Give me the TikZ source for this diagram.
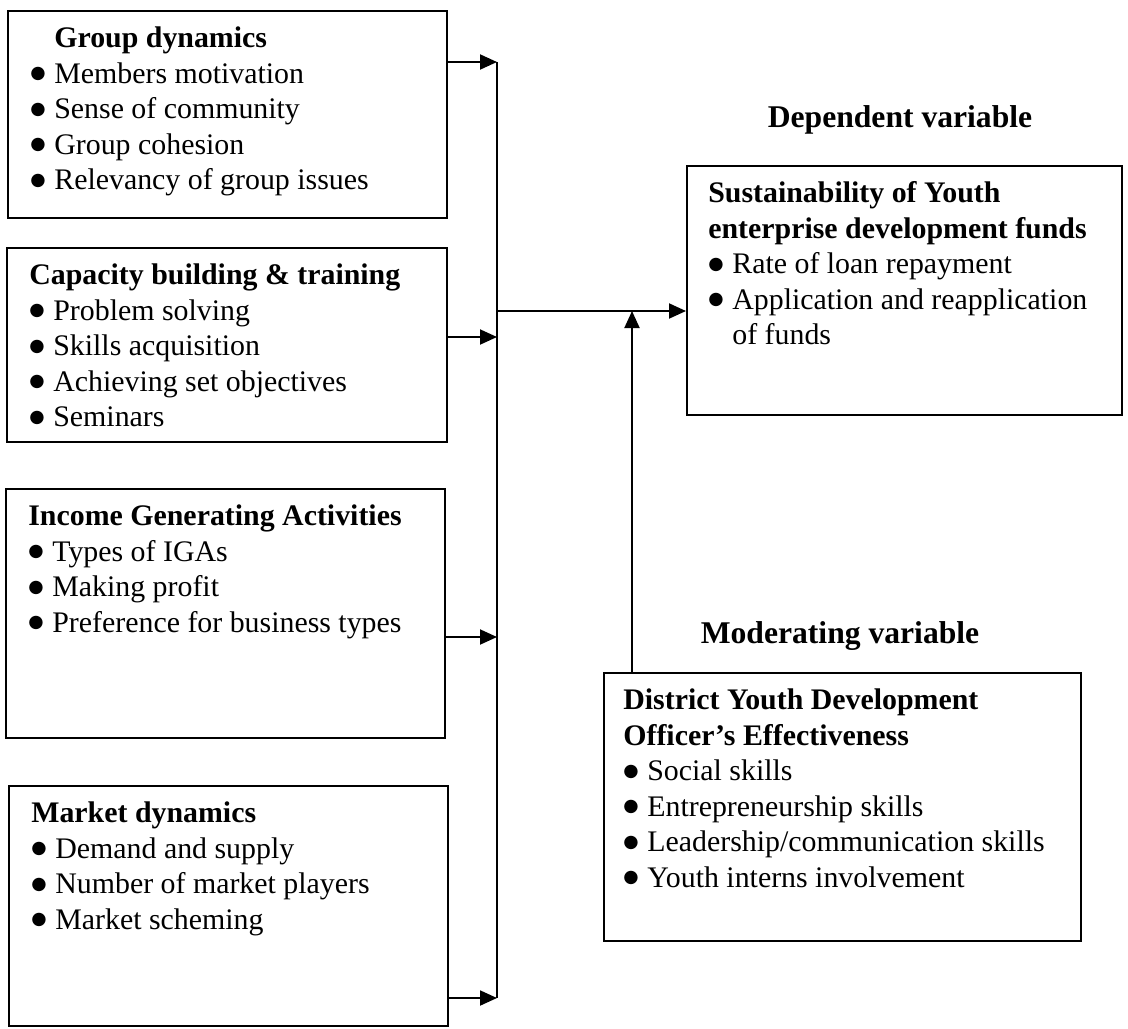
\documentclass[tikz,border=0pt]{standalone}
\usepackage{fontspec}
\setmainfont{Liberation Serif}
\newfontfamily\symfont{DejaVu Sans}
\usetikzlibrary{arrows.meta}

\newcommand{\itm}{\makebox[0.48cm][l]{\raisebox{2.7pt}{\fontsize{10}{12}\symfont ●}}}
\newcommand{\firstline}{\rule{0pt}{0.6cm}}

\begin{document}
\begin{tikzpicture}[
    x=0.02cm, y=-0.02cm,
    varbox/.style={draw, line width=1.2pt, anchor=north west, inner sep=0pt},
    boxtext/.style={anchor=north west, align=left, inner sep=0pt, font=\fontsize{17}{20.2}\selectfont},
    vtitle/.style={anchor=base, font=\fontsize{18}{21}\selectfont\bfseries},
    arrow/.style={-{Triangle[length=0.34cm, width=0.3cm]}, line width=1.1pt},
    line/.style={line width=1.1pt}
]
    \useasboundingbox (0,0) rectangle (1128,1028);

    % ==========================================
    % Independent variables (left column)
    % ==========================================
    \node[varbox, minimum width=8.78cm, minimum height=4.14cm] (grp) at (7,10) {};
    \node[boxtext] (grp_txt) at (30,17.5) {\firstline\hspace*{0.48cm}\textbf{Group dynamics}\\
        \itm Members motivation\\ \itm Sense of community\\ \itm Group cohesion\\ \itm Relevancy of group issues};

    \node[varbox, minimum width=8.8cm, minimum height=3.88cm] (cap) at (6,247) {};
    \node[boxtext] (cap_txt) at (29,254.5) {\firstline\textbf{Capacity building \& training}\\
        \itm Problem solving\\ \itm Skills acquisition\\ \itm Achieving set objectives\\ \itm Seminars};

    \node[varbox, minimum width=8.78cm, minimum height=4.98cm] (iga) at (5,488) {};
    \node[boxtext] (iga_txt) at (28,495.5) {\firstline\textbf{Income Generating Activities}\\
        \itm Types of IGAs\\ \itm Making profit\\ \itm Preference for business types};

    \node[varbox, minimum width=8.78cm, minimum height=4.8cm] (mkt) at (8,785) {};
    \node[boxtext] (mkt_txt) at (31,792.5) {\firstline\textbf{Market dynamics}\\
        \itm Demand and supply\\ \itm Number of market players\\ \itm Market scheming};

    % ==========================================
    % Dependent and moderating variables
    % ==========================================
    \node[vtitle] (dep_title) at (900,127) {Dependent variable};
    \node[varbox, minimum width=8.7cm, minimum height=4.98cm] (dep) at (686,165) {};
    \node[boxtext] (dep_txt) at (708,172.5) {\firstline\textbf{Sustainability of Youth}\\
        \textbf{enterprise development funds}\\ \itm Rate of loan repayment\\
        \itm Application and reapplication\\ \hspace*{0.48cm}of funds};

    \node[vtitle] (mod_title) at (840,643) {Moderating variable};
    \node[varbox, minimum width=9.54cm, minimum height=5.36cm] (mod) at (603,672) {};
    \node[boxtext] (mod_txt) at (623,679.5) {\firstline\textbf{District Youth Development}\\
        \textbf{Officer’s Effectiveness}\\ \itm Social skills\\ \itm Entrepreneurship skills\\
        \itm Leadership/communication skills\\ \itm Youth interns involvement};

    % ==========================================
    % Connectors
    % ==========================================
    \coordinate (b1) at (497,62);
    \coordinate (b2) at (497,337);
    \coordinate (b3) at (497,637);
    \coordinate (b4) at (497,998);
    \coordinate (bo) at (497,311);
    \coordinate (mj) at (632,311);

    \draw[line] (b1) -- (b4);
    \draw[arrow] (grp.east |- b1) -- (b1);
    \draw[arrow] (cap.east |- b2) -- (b2);
    \draw[arrow] (iga.east |- b3) -- (b3);
    \draw[arrow] (mkt.east |- b4) -- (b4);

    \draw[arrow] (bo) -- (dep.west |- bo);
    \draw[arrow] (mj |- mod.north) -- (mj);

\end{tikzpicture}
\end{document}
